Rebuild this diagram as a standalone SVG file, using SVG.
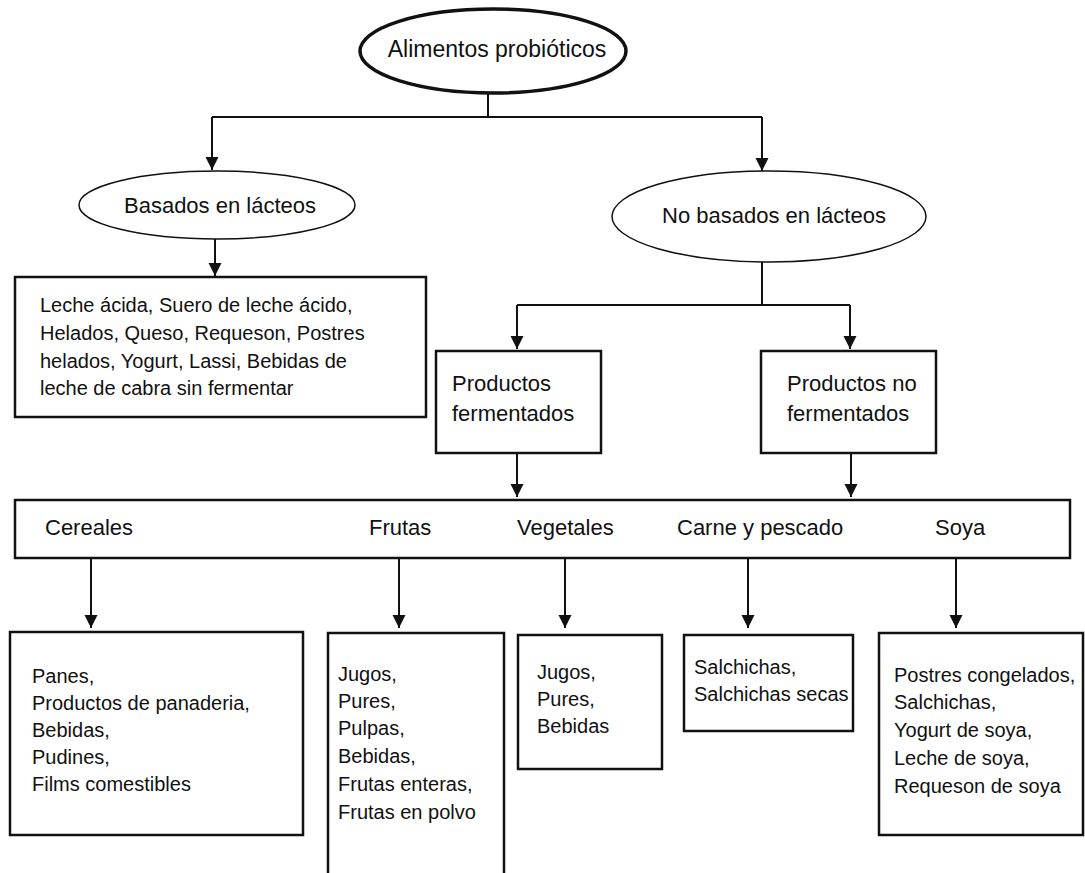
<svg xmlns="http://www.w3.org/2000/svg" width="1085" height="873" viewBox="0 0 1085 873">
<defs>
<marker id="arr" markerUnits="userSpaceOnUse" markerWidth="16" markerHeight="16" viewBox="0 0 16 16" refX="13" refY="8" orient="auto">
<path d="M0,1.5 L13,8 L0,14.5 Z" fill="#111"/>
</marker>
<style>
text{font-family:"Liberation Sans",Arial,sans-serif;fill:#111}
.lbl{font-size:22px}
.box{font-size:20px}
.bx{fill:#fff;stroke:#111;stroke-width:2.5}
.el{fill:#fff;stroke:#111;stroke-width:1.5}
.ln{fill:none;stroke:#111;stroke-width:2}
.ar{fill:none;stroke:#111;stroke-width:2;marker-end:url(#arr)}
</style>
</defs>
<rect width="1085" height="873" fill="#fff"/>
<g id="connectors">
<path class="ln" d="M488,93 V117 M212,117 H762"/>
<path class="ar" d="M212,117 V170"/>
<path class="ar" d="M762,117 V171"/>
<path class="ar" d="M215,239 V276"/>
<path class="ln" d="M762,261 V305 M517,305 H850"/>
<path class="ar" d="M517,305 V349"/>
<path class="ar" d="M850,305 V349"/>
<path class="ar" d="M517,453 V497"/>
<path class="ar" d="M851,453 V497"/>
<path class="ar" d="M91,558 V628"/>
<path class="ar" d="M399,558 V628"/>
<path class="ar" d="M565,558 V628"/>
<path class="ar" d="M748,558 V628"/>
<path class="ar" d="M956,558 V628"/>
</g>
<g id="root">
<ellipse cx="493" cy="51" rx="133" ry="42" fill="#fff" stroke="#111" stroke-width="3.5"/>
<text x="497" y="57" text-anchor="middle" style="font-size:23px">Alimentos probióticos</text>
</g>
<g id="lacteos">
<ellipse class="el" cx="217" cy="205" rx="138" ry="34"/>
<text class="lbl" x="220" y="213" text-anchor="middle">Basados en lácteos</text>
</g>
<g id="lacteos-list">
<rect class="bx" x="15" y="277" width="411" height="140"/>
<text class="box" x="40" y="312">Leche ácida, Suero de leche ácido,</text>
<text class="box" x="40" y="340">Helados, Queso, Requeson, Postres</text>
<text class="box" x="40" y="368">helados, Yogurt, Lassi, Bebidas de</text>
<text class="box" x="40" y="395">leche de cabra sin fermentar</text>
</g>
<g id="no-lacteos">
<ellipse class="el" cx="769" cy="216.5" rx="157" ry="45.5"/>
<text class="lbl" x="774" y="223" text-anchor="middle">No basados en lácteos</text>
</g>
<g id="fermentados">
<rect class="bx" x="436" y="351" width="165" height="102"/>
<text class="lbl" x="452" y="391">Productos</text>
<text class="lbl" x="452" y="421">fermentados</text>
</g>
<g id="no-fermentados">
<rect class="bx" x="761" y="351" width="175" height="102"/>
<text class="lbl" x="787" y="391">Productos no</text>
<text class="lbl" x="787" y="421">fermentados</text>
</g>
<g id="categorias">
<rect class="bx" x="15" y="500" width="1055" height="58"/>
<text class="lbl" x="45" y="535">Cereales</text>
<text class="lbl" x="369" y="535">Frutas</text>
<text class="lbl" x="517" y="535">Vegetales</text>
<text class="lbl" x="677" y="535">Carne y pescado</text>
<text class="lbl" x="935" y="535">Soya</text>
</g>
<g id="cereales">
<rect class="bx" x="10" y="632" width="293" height="203"/>
<text class="box" x="32" y="683">Panes,</text>
<text class="box" x="32" y="710">Productos de panaderia,</text>
<text class="box" x="32" y="737">Bebidas,</text>
<text class="box" x="32" y="764">Pudines,</text>
<text class="box" x="32" y="791">Films comestibles</text>
</g>
<g id="frutas">
<rect class="bx" x="328" y="633" width="176" height="260"/>
<text class="box" x="338" y="681">Jugos,</text>
<text class="box" x="338" y="708">Pures,</text>
<text class="box" x="338" y="735">Pulpas,</text>
<text class="box" x="338" y="763">Bebidas,</text>
<text class="box" x="338" y="791">Frutas enteras,</text>
<text class="box" x="338" y="819">Frutas en polvo</text>
</g>
<g id="vegetales">
<rect class="bx" x="518" y="635" width="144" height="134"/>
<text class="box" x="537" y="679">Jugos,</text>
<text class="box" x="537" y="706">Pures,</text>
<text class="box" x="537" y="733">Bebidas</text>
</g>
<g id="carne">
<rect class="bx" x="684" y="635" width="169" height="96"/>
<text class="box" x="694" y="674">Salchichas,</text>
<text class="box" x="694" y="701">Salchichas secas</text>
</g>
<g id="soya">
<rect class="bx" x="879" y="633" width="204" height="202"/>
<text class="box" x="894" y="682">Postres congelados,</text>
<text class="box" x="894" y="709">Salchichas,</text>
<text class="box" x="894" y="737">Yogurt de soya,</text>
<text class="box" x="894" y="765">Leche de soya,</text>
<text class="box" x="894" y="793">Requeson de soya</text>
</g>
</svg>
